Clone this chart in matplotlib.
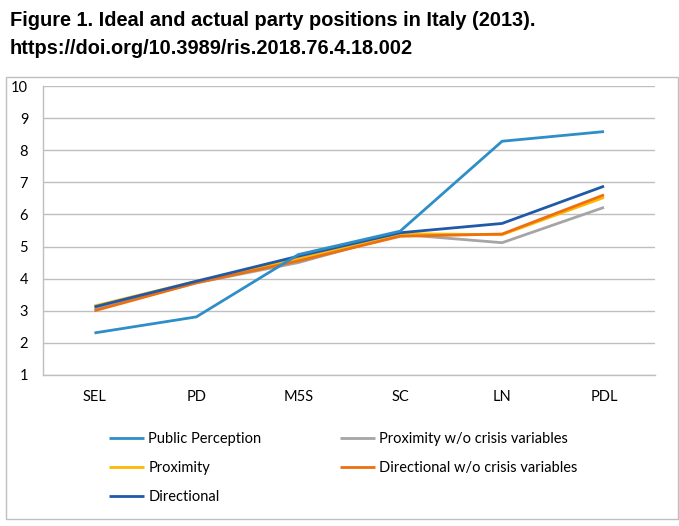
import matplotlib
matplotlib.use("Agg")
import matplotlib.pyplot as plt
from matplotlib.patches import Rectangle

categories = ["SEL", "PD", "M5S", "SC", "LN", "PDL"]
public_perception = [2.31, 2.81, 4.75, 5.48, 8.28, 8.58]
proximity = [3.15, 3.92, 4.62, 5.40, 5.37, 6.53]
directional = [3.12, 3.92, 4.70, 5.43, 5.72, 6.88]
proximity_wo = [3.05, 3.87, 4.50, 5.38, 5.12, 6.22]
directional_wo = [3.00, 3.87, 4.55, 5.32, 5.39, 6.61]
yticks = [1, 2, 3, 4, 5, 6, 7, 8, 9, 10]

W, H = 679, 526
fig = plt.figure(figsize=(W / 100, H / 100), dpi=100)
fig.patch.set_facecolor("white")

# chart border
fig.patches.append(Rectangle((6 / W, 1 - 519 / H), 672 / W, 442 / H,
                             transform=fig.transFigure, fill=False,
                             edgecolor="#BFBFBF", linewidth=1.0))

fig.text(10 / W, 1 - 11 / H,
         "Figure 1. Ideal and actual party positions in Italy (2013).\nhttps://doi.org/10.3989/ris.2018.76.4.18.002",
         family="Liberation Sans", weight="bold", fontsize=14.4,
         va="top", ha="left", linespacing=1.58)

ax = fig.add_axes([43.5 / W, 1 - 375 / H, (655 - 43.5) / W, (375 - 86) / H])
x = list(range(len(categories)))
series = [
    ("Public Perception", public_perception, "#2E8EC8"),
    ("Proximity", proximity, "#FDB800"),
    ("Directional", directional, "#2059A8"),
    ("Proximity w/o crisis variables", proximity_wo, "#A5A5A5"),
    ("Directional w/o crisis variables", directional_wo, "#EE6F10"),
]
order = [3, 1, 4, 2, 0]  # draw order (bottom to top)
lines = {}
for i in order:
    name, vals, col = series[i]
    ln, = ax.plot(x, vals, color=col, linewidth=2.0, solid_capstyle="butt",
                  solid_joinstyle="round", label=name, zorder=3 + order.index(i))
    lines[i] = ln

ax.set_xlim(-0.5, len(categories) - 0.5)
ax.set_ylim(1, 10)
ax.set_yticks(yticks)
ax.set_xticks(x)
ax.set_xticklabels(categories)
ax.yaxis.grid(True, color="#BFBFBF", linewidth=1.0)
ax.set_axisbelow(True)
for s in ["top", "right"]:
    ax.spines[s].set_visible(False)
for s in ["left", "bottom"]:
    ax.spines[s].set_color("#BFBFBF")
    ax.spines[s].set_linewidth(1.0)
ax.tick_params(length=0, labelsize=10.5, colors="#000000")
ax.tick_params(axis="y", pad=11)
ax.tick_params(axis="x", pad=10.5)
for lab in ax.get_xticklabels() + ax.get_yticklabels():
    lab.set_family("Lato")

handles = [lines[i] for i in range(5)]
leg = fig.legend(handles, [series[i][0] for i in range(5)], ncol=2,
                 loc="upper left", bbox_to_anchor=(103 / W, 1 - 426 / H),
                 frameon=False, prop={"family": "Lato", "size": 10.5},
                 handlelength=2.4, handletextpad=0.3, columnspacing=5.4,
                 labelspacing=1.05, borderaxespad=0)

fig.savefig("out.png", dpi=100, facecolor="white")
